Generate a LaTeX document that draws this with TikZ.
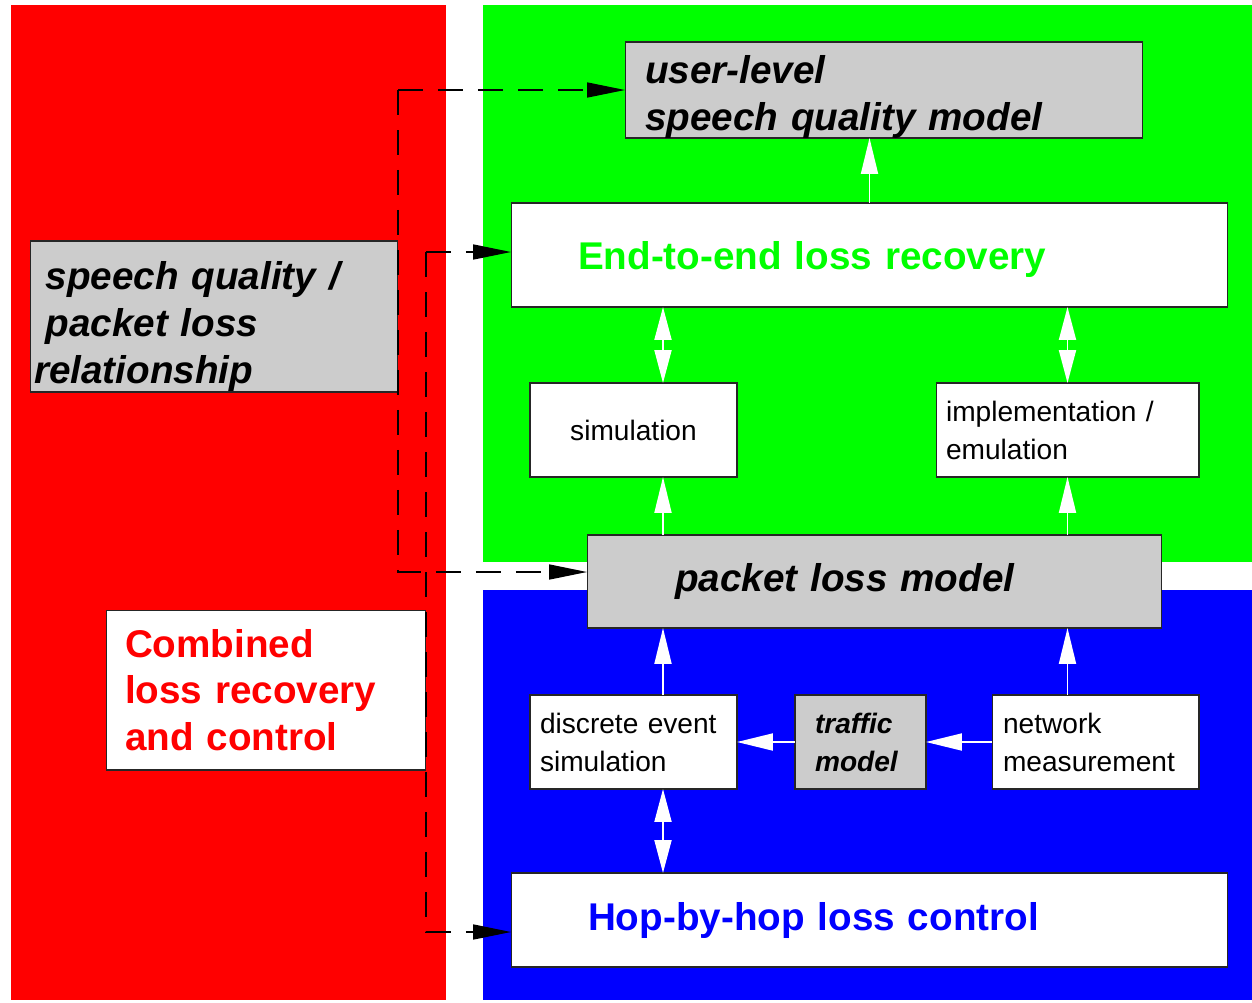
\documentclass[tikz,border=0pt]{standalone}
\usepackage{fontspec}
\setmainfont{Liberation Sans}
\usetikzlibrary{arrows.meta,calc}
\definecolor{lossred}{RGB}{255,0,0}
\definecolor{e2egreen}{RGB}{0,255,0}
\definecolor{hopblue}{RGB}{0,0,255}
\definecolor{modelgray}{RGB}{204,204,204}
\tikzset{
  blk/.style={draw=black!85,line width=0.6pt,fill=white,inner ysep=0pt,outer sep=0pt,align=left},
  mdl/.style={blk,fill=modelgray},
  lower/.style={execute at end node={\par\vspace*{-#1}}},
  big/.style={font=\fontsize{22}{26.5}\selectfont\bfseries},
  bigit/.style={font=\fontsize{22}{26.5}\selectfont\bfseries\itshape},
  sml/.style={font=\fontsize{16}{21.6}\selectfont},
  smlit/.style={font=\fontsize{16}{21.6}\selectfont\bfseries\itshape},
  war/.style={white,line width=1.1pt,-{Triangle[length=0.72cm,width=0.34cm]}},
  wdar/.style={white,line width=1.1pt,{Triangle[length=0.66cm,width=0.34cm]}-{Triangle[length=0.66cm,width=0.34cm]}},
  dar/.style={line width=0.9pt,dash pattern=on 0.5cm off 0.3cm,-{Triangle[length=0.76cm,width=0.3cm]}},
}

\begin{document}
\begin{tikzpicture}[x=0.02cm,y=-0.02cm]
  \useasboundingbox (0,0) rectangle (1252,1002);
  % coloured areas
  \fill[lossred] (11,5) rectangle (446,1000);
  \fill[e2egreen] (483,5) rectangle (1252,562);
  \fill[hopblue] (483,590) rectangle (1252,1000);
  % boxes
  \node[mdl,bigit,lower=0.28cm,minimum width=10.36cm,minimum height=1.92cm,inner xsep=0.4cm,text width=9.56cm] (user) at (884,90) {user-level\\speech quality model};
  \node[blk,big,lower=0.24cm,text=e2egreen,minimum width=14.34cm,minimum height=2.08cm,inner xsep=1.34cm,text width=11.66cm] (e2e) at (869.5,255) {End-to-end loss recovery};
  \node[mdl,bigit,lower=0.4cm,minimum width=7.36cm,minimum height=3.02cm,inner xsep=0.08cm,text width=7.2cm] (spq) at (214,316.5) {\hspace*{0.3em}speech quality /\\\hspace*{0.3em}packet loss\\relationship};
  \node[blk,sml,align=center,minimum width=4.14cm,minimum height=1.88cm] (sim) at (633.5,430) {simulation};
  \node[blk,sml,minimum width=5.26cm,minimum height=1.88cm,inner xsep=0.2cm,text width=4.86cm] (impl) at (1067.5,430) {implementation /\\emulation};
  \node[mdl,bigit,minimum width=11.5cm,minimum height=1.86cm,inner xsep=1.76cm,text width=7.98cm] (pl) at (874.5,581.5) {packet loss model};
  \node[blk,big,text=lossred,minimum width=6.4cm,minimum height=3.2cm,inner xsep=0.38cm,text width=5.64cm] (comb) at (266,690) {Combined\\loss recovery\\and control};
  \node[blk,sml,minimum width=4.14cm,minimum height=1.88cm,inner xsep=0.2cm,text width=3.74cm] (disc) at (633.5,742) {discrete event\\simulation};
  \node[mdl,smlit,minimum width=2.62cm,minimum height=1.88cm,inner xsep=0.4cm,text width=1.82cm] (traffic) at (860.5,742) {traffic\\model};
  \node[blk,sml,minimum width=4.14cm,minimum height=1.88cm,inner xsep=0.22cm,text width=3.7cm] (net) at (1095.5,742) {network\\measurement};
  \node[blk,big,text=hopblue,minimum width=14.34cm,minimum height=1.88cm,inner xsep=1.54cm,text width=11.26cm] (hop) at (869.5,920) {Hop-by-hop loss control};
  % dashed feedback lines
  \coordinate (plin) at ([yshift=0.19cm]pl.west);
  \coordinate (e2ein) at ([yshift=0.06cm]e2e.west);
  \coordinate (hopin) at ([yshift=-0.24cm]hop.west);
  \draw[dar] (user.west -| spq.east) -- (user.west);
  \draw[dar] (user.west -| spq.east) -- (plin -| spq.east) -- (plin);
  \draw[dar] (e2ein -| comb.east) -- (e2ein);
  \draw[dar] (e2ein -| comb.east) -- (hopin -| comb.east) -- (hopin);
  % white arrows
  \coordinate (lane) at (663,0);
  \draw[war] (e2e.north) -- (e2e.north |- user.south);
  \draw[wdar] (e2e.south -| lane) -- (sim.north -| lane);
  \draw[wdar] (e2e.south -| impl.north) -- (impl.north);
  \draw[war] (pl.north -| lane) -- (sim.south -| lane);
  \draw[war] (pl.north -| impl.south) -- (impl.south);
  \draw[war] (disc.north -| lane) -- (pl.south -| lane);
  \draw[war] (net.north -| impl.south) -- (pl.south -| impl.south);
  \draw[war] (net.west) -- (traffic.east);
  \draw[war] (traffic.west) -- (disc.east);
  \draw[wdar] (disc.south -| lane) -- (hop.north -| lane);
\end{tikzpicture}
\end{document}
